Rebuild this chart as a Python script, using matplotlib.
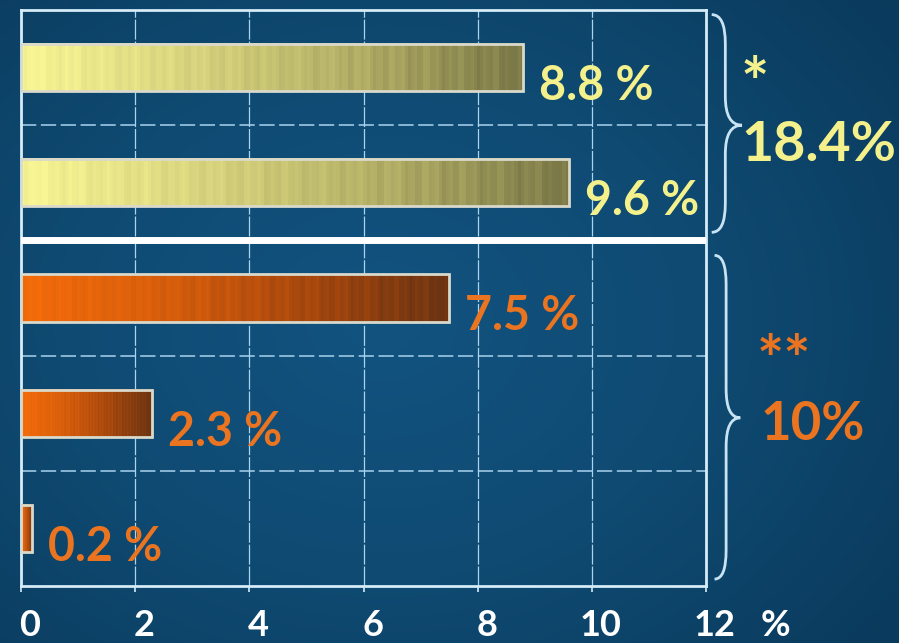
import numpy as np
import matplotlib.pyplot as plt
from matplotlib.path import Path
from matplotlib.patches import PathPatch, Rectangle
from matplotlib.colors import LinearSegmentedColormap
import matplotlib.transforms as mtransforms

# valeurs des barres (en %), de haut en bas
values = [8.8, 9.6, 7.5, 2.3, 0.2]
bar_group = [0, 0, 1, 1, 1]
group_totals = ["18.4%", "10%"]
group_marks = ["*", "**"]
xticks = [0, 2, 4, 6, 8, 10, 12]

text_colors = ["#f4f08c", "#ea7420"]
cmaps = [
    LinearSegmentedColormap.from_list("jaune", ["#f8f694", "#d8d47e", "#b2ae66", "#7c7948"]),
    LinearSegmentedColormap.from_list("orange", ["#f46c0a", "#d85e0c", "#a8480e", "#6c3412"]),
]
line_col = "#a9d3ee"
frame_col = "#d4ebf8"

plt.rcParams["font.family"] = ["Lato", "DejaVu Sans"]

fig = plt.figure(figsize=(8.99, 6.43), dpi=100)

# fond bleu avec léger dégradé radial
bg = fig.add_axes([0, 0, 1, 1], zorder=-10)
gx, gy = np.meshgrid(np.linspace(-1, 1, 300), np.linspace(-1, 1, 220))
r = np.clip(np.sqrt((gx + 0.15) ** 2 + (gy * 0.9) ** 2) / 1.5, 0, 1)
bg_cmap = LinearSegmentedColormap.from_list("fond", ["#125380", "#0f4a72", "#0a3a5c"])
bg.imshow(r, cmap=bg_cmap, aspect="auto", extent=(0, 1, 0, 1), interpolation="bilinear")
bg.set_axis_off()

ax = fig.add_axes([21 / 899, 1 - 586 / 643, 685 / 899, 576 / 643])
ax.patch.set_alpha(0)

# grille verticale
ax.set_axisbelow(True)
ax.grid(axis="x", color=line_col, lw=0.9, linestyle=(0, (16, 1.5)))
ax.grid(axis="y", visible=False)
ax.hlines([1, 3, 4], 0, 12, colors=line_col, lw=1.1, linestyles=(0, (10, 3)), zorder=1)

# barres avec dégradé et texture en bandes verticales
h = 0.41
for i, (v, g) in enumerate(zip(values, bar_group)):
    yc = i + 0.5
    n = 160
    t = np.linspace(0, 1, n)
    k = np.arange(n)
    stripes = 0.04 * np.sin(k * 1.7) + 0.03 * np.sin(k * 0.61 + 1.3)
    grad = np.clip(t + stripes, 0, 1)[None, :]
    ax.imshow(grad, cmap=cmaps[g], aspect="auto", interpolation="nearest",
              extent=(0, v, yc + h / 2, yc - h / 2), zorder=3)
    ax.add_patch(Rectangle((0, yc - h / 2), v, h, fill=False,
                           edgecolor="#d9d9cc", lw=2, zorder=4))
    ax.text(v + 0.28, yc + 0.16, f"{v} %", ha="left", va="center",
            fontsize=33.5, fontweight="bold", color=text_colors[g], zorder=5)

ax.set_xlim(0, 12)
ax.set_ylim(5, 0)

# séparation entre les deux groupes
ax.axhline(2, color="white", lw=5, zorder=6)

for s in ax.spines.values():
    s.set_color(frame_col)
    s.set_linewidth(2)

ax.set_xticks(xticks)
ax.set_xticklabels([])
ax.set_yticks([])
ax.tick_params(axis="x", colors=frame_col, length=4, width=1.2)

# étiquettes de l'axe x, légèrement décalées vers la droite
trans = mtransforms.blended_transform_factory(ax.transData, fig.transFigure)
shift = mtransforms.ScaledTranslation(9 / 100, 0, fig.dpi_scale_trans)
for xt in xticks:
    ax.text(xt, 7 / 643, str(xt), transform=trans + shift, ha="center", va="baseline",
            fontsize=26, fontweight="bold", color="white", clip_on=False)
ax.text(13.21, 7 / 643, "%", transform=trans, ha="center", va="baseline",
        fontsize=26, fontweight="bold", color="white", clip_on=False)


def brace(x0, x1, y0, y1, ytip, d=0.25):
    xm = x0 + (x1 - x0) * 0.45
    verts = [(x0, y0), (xm, y0), (xm, y0 + d),
             (xm, ytip - d), (xm, ytip), (x1, ytip),
             (xm, ytip), (xm, ytip + d),
             (xm, y1 - d), (xm, y1), (x0, y1)]
    codes = [Path.MOVETO, Path.CURVE3, Path.CURVE3,
             Path.LINETO, Path.CURVE3, Path.CURVE3,
             Path.CURVE3, Path.CURVE3,
             Path.LINETO, Path.CURVE3, Path.CURVE3]
    ax.add_patch(PathPatch(Path(verts, codes), fill=False, edgecolor="#c8e4f4",
                           lw=2, clip_on=False, zorder=5))


brace(12.1, 12.63, 0.04, 1.93, 1.0)
brace(12.15, 12.6, 2.13, 4.94, 3.54)

# totaux par groupe
ax.text(12.6, 0.40, group_marks[0], ha="left", va="top", fontsize=48,
        fontweight="bold", color=text_colors[0], clip_on=False)
ax.text(12.62, 1.17, group_totals[0], ha="left", va="center", fontsize=40,
        fontweight="bold", color=text_colors[0], clip_on=False)
ax.text(12.88, 2.82, group_marks[1], ha="left", va="top", fontsize=46,
        fontweight="bold", color=text_colors[1], clip_on=False)
ax.text(12.96, 3.6, group_totals[1], ha="left", va="center", fontsize=38,
        fontweight="bold", color=text_colors[1], clip_on=False)

fig.savefig("out.png", dpi=100)
